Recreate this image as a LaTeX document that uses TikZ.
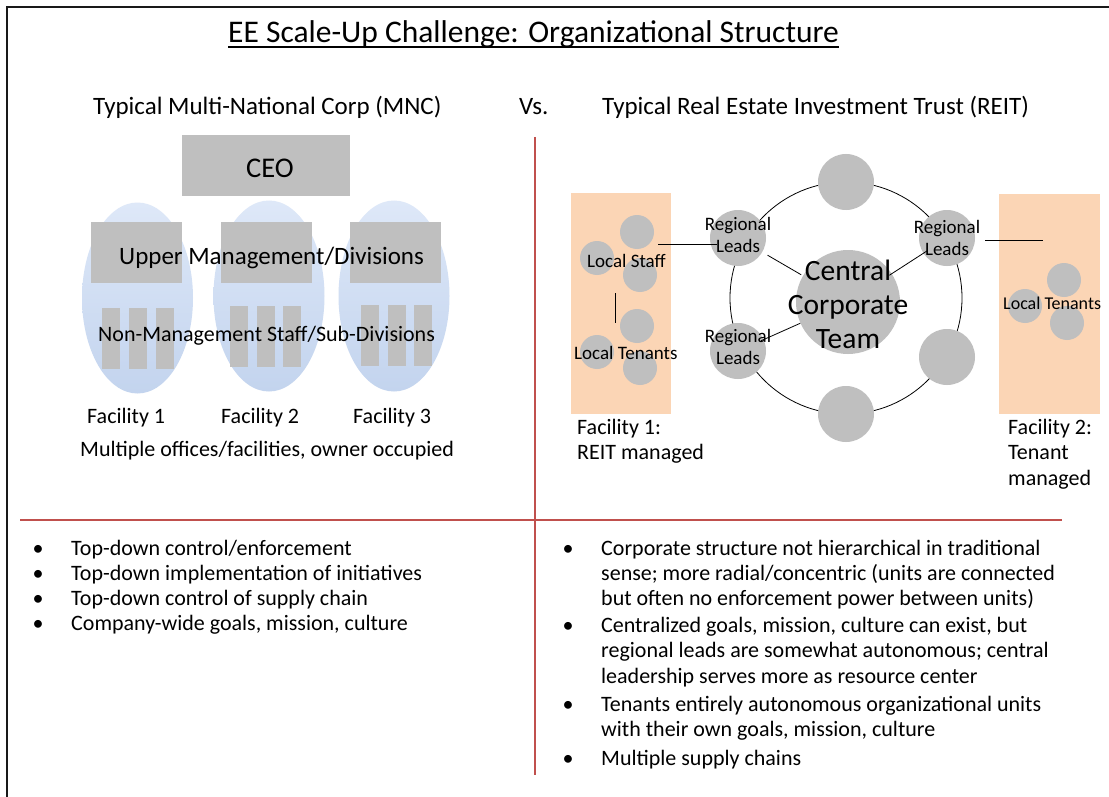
\documentclass[tikz,border=0pt]{standalone}
\usepackage{fontspec}
\setmainfont{Carlito}
\usetikzlibrary{shapes.geometric}
\definecolor{boxgray}{HTML}{BFBFBF}
\definecolor{peach}{HTML}{FBD5B5}
\definecolor{eltop}{HTML}{DEE8F8}
\definecolor{elbot}{HTML}{C3D4EE}
\definecolor{divred}{HTML}{C0504D}
\newcommand\fsz[2]{\fontsize{#1}{#2}\selectfont}
\begin{document}
\begin{tikzpicture}[x=1pt,y=-1pt,
  txt/.style={inner sep=0pt, anchor=base west},
  gbox/.style={fill=boxgray, inner sep=0pt},
  smalldot/.style={circle, fill=boxgray, inner sep=0pt, minimum size=34pt},
  leaddot/.style={circle, fill=boxgray, inner sep=0pt, minimum size=56pt},
  facell/.style={ellipse, inner sep=0pt, top color=eltop, bottom color=elbot, draw=none, minimum width=111pt, minimum height=191pt},
  bar/.style={fill=boxgray, inner sep=0pt, minimum width=18pt, minimum height=61pt},
  mgmt/.style={fill=boxgray, inner sep=0pt, minimum width=91pt, minimum height=61pt},
  conn/.style={draw=black, line width=0.8pt},
  divider/.style={draw=divred, line width=2.2pt},
  body/.style={txt, font=\fsz{22}{25}},
  bul/.style={inner sep=0pt, anchor=base, font=\fsz{22}{25}}]
\useasboundingbox (0,0) rectangle (1109,797);
\fill[white] (0,0) rectangle (1109,797);
\draw[line width=2pt, black!90] (7,7) rectangle (1125,815);

% title
\node[txt, font=\fsz{31.5}{36}] (title) at (228,43) {EE Scale-Up Challenge: Organizational Structure};
\draw[line width=1.8pt] ([yshift=-4pt]title.base west) -- ([yshift=-4pt]title.base east);

% subtitles
\node[txt, font=\fsz{25}{30}] (mnc) at (93,115) {Typical Multi-National Corp (MNC)};
\node[txt, font=\fsz{25}{30}] (vs) at (519,115) {Vs.};
\node[txt, font=\fsz{25}{30}] (reit) at (602,115) {Typical Real Estate Investment Trust (REIT)};

% dividers
\coordinate (vtop) at (535,137);
\coordinate (vbot) at (535,775);
\coordinate (hl) at (20,520);
\coordinate (hr) at (1062,520);
\draw[divider] (vtop) -- (vbot);
\draw[divider] (hl) -- (hr);

% ---------- left: MNC ----------
\node[facell] (e1) at (137.5,298) {};
\node[facell] (e2) at (269,296) {};
\node[facell] (e3) at (394,296) {};
\node[gbox, minimum width=168pt, minimum height=61pt] (ceo) at (266,165.5) {};
\node[font=\fsz{28.5}{32}, inner sep=0pt] (ceot) at (270,168) {CEO};
\node[mgmt] (m1) at (136.5,252.5) {};
\node[mgmt] (m2) at (266.5,252.5) {};
\node[mgmt] (m3) at (395.5,252.5) {};
\node[bar] (b11) at (111,338) {};
\node[bar] (b12) at (138,338) {};
\node[bar] (b13) at (165,338) {};
\node[bar] (b21) at (239,336) {};
\node[bar] (b22) at (266,336) {};
\node[bar] (b23) at (292,336) {};
\node[bar] (b31) at (370,335) {};
\node[bar] (b32) at (397,335) {};
\node[bar] (b33) at (423,335) {};
\node[txt, font=\fsz{25}{30}] (upper) at (119,264) {Upper Management/Divisions};
\node[txt, font=\fsz{22}{25}] (nonm) at (98,341) {Non-Management Staff/Sub-Divisions};
\node[body] (f1) at (87,423) {Facility 1};
\node[body] (f2) at (221,423) {Facility 2};
\node[body] (f3) at (353,423) {Facility 3};
\node[body] (multi) at (80,456) {Multiple offices/facilities, owner occupied};

% ---------- right: REIT ----------
\node[fill=peach, inner sep=0pt, minimum width=100pt, minimum height=221pt] (fac1) at (621,303.5) {};
\node[fill=peach, inner sep=0pt, minimum width=101pt, minimum height=220pt] (fac2) at (1049.5,304) {};

\draw[conn] (846,298) circle [radius=116pt];

\node[smalldot] (s1) at (637,232) {};
\node[smalldot] (s2) at (597,258) {};
\node[smalldot] (s3) at (640,275) {};
\node[smalldot] (t1) at (637,326) {};
\node[smalldot] (t2) at (597,352) {};
\node[smalldot] (t3) at (640,368) {};
\node[smalldot] (u1) at (1064,280) {};
\node[smalldot] (u2) at (1025,306) {};
\node[smalldot] (u3) at (1067,323) {};

\node[leaddot] (rl1) at (738,238) {};
\node[leaddot] (rl2) at (738,351) {};
\node[leaddot] (rl3) at (947,238) {};
\node[leaddot] (ctop) at (846,182) {};
\node[leaddot] (crt) at (947,357) {};
\node[leaddot] (cbot) at (846,414) {};
\node[circle, fill=boxgray, inner sep=0pt, minimum size=104pt] (central) at (848,302) {};

\draw[conn, shorten <=6pt, shorten >=2pt] (rl1) -- (central);
\draw[conn, shorten <=-5pt, shorten >=-3pt] (rl3) -- (central);
\draw[conn, shorten <=-3pt, shorten >=0pt] (rl2) -- (central);

\coordinate (ls1) at (658,244);
\coordinate (ls2) at (717,244);
\draw[conn] (ls1) -- (ls2);
\coordinate (lv1) at (615,293);
\coordinate (lv2) at (615,323);
\draw[conn] (lv1) -- (lv2);
\coordinate (rr1) at (985,240);
\coordinate (rr2) at (1043,240);
\draw[conn] (rr1) -- (rr2);

\node[align=center, inner sep=0pt, font=\fsz{19}{22.5}] (rl1t) at (738,235) {Regional\\Leads};
\node[align=center, inner sep=0pt, font=\fsz{19}{22.5}] (rl3t) at (947,238) {Regional\\Leads};
\node[align=center, inner sep=0pt, font=\fsz{19}{22.5}] (rl2t) at (738,347) {Regional\\Leads};
\node[align=center, inner sep=0pt, font=\fsz{29.5}{34}] (centralt) at (848,304) {Central\\Corporate\\Team};

\node[txt, font=\fsz{19}{22}] (lstaff) at (587,267) {Local Staff};
\node[txt, font=\fsz{19}{22}] (ltenants) at (574,359) {Local Tenants};
\node[txt, font=\fsz{18}{22}] (ltenants2) at (1003,309) {Local Tenants};

\node[body] (fa1) at (577,434) {Facility 1:};
\node[body] (fa1b) at (577,459) {REIT managed};
\node[body] (fa2) at (1008,434) {Facility 2:};
\node[body] (fa2b) at (1008,459) {Tenant};
\node[body] (fa2c) at (1008,485) {managed};

% ---------- bullets left ----------
\node[bul] (bl1) at (38,555) {•};
\node[body] (tl1) at (71,555) {Top-down control/enforcement};
\node[bul] (bl2) at (38,580) {•};
\node[body] (tl2) at (71,580) {Top-down implementation of initiatives};
\node[bul] (bl3) at (38,605) {•};
\node[body] (tl3) at (71,605) {Top-down control of supply chain};
\node[bul] (bl4) at (38,630) {•};
\node[body] (tl4) at (71,630) {Company-wide goals, mission, culture};

% ---------- bullets right ----------
\node[bul] (br1) at (568,555) {•};
\node[body] (tr1a) at (601,555) {Corporate structure not hierarchical in traditional};
\node[body] (tr1b) at (601,580) {sense; more radial/concentric (units are connected};
\node[body] (tr1c) at (601,605) {but often no enforcement power between units)};
\node[bul] (br2) at (568,632) {•};
\node[body] (tr2a) at (601,632) {Centralized goals, mission, culture can exist, but};
\node[body] (tr2b) at (601,657) {regional leads are somewhat autonomous; central};
\node[body] (tr2c) at (601,683) {leadership serves more as resource center};
\node[bul] (br3) at (568,711) {•};
\node[body] (tr3a) at (601,711) {Tenants entirely autonomous organizational units};
\node[body] (tr3b) at (601,736) {with their own goals, mission, culture};
\node[bul] (br4) at (568,765) {•};
\node[body] (tr4) at (601,765) {Multiple supply chains};
\end{tikzpicture}
\end{document}
